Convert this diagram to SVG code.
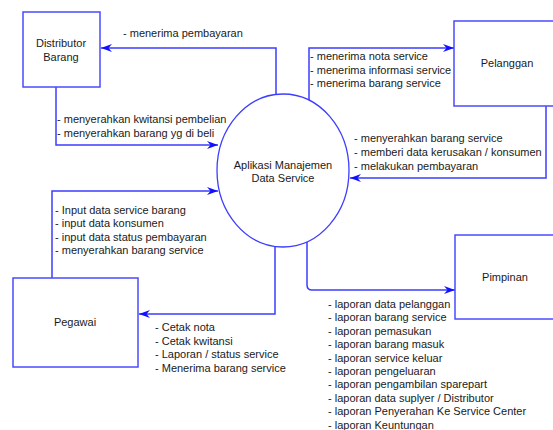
<svg xmlns="http://www.w3.org/2000/svg" width="553" height="430" viewBox="0 0 553 430">
<style>
.box{fill:#fff;stroke:#4a4aff;stroke-width:1.5}
.proc{fill:#fff;stroke:#3d3dff;stroke-width:1.3}
.t{font-family:"Liberation Sans",Arial,sans-serif;font-size:11px;fill:#1a1a1a}
.c{text-anchor:middle}
.ln{fill:none;stroke:#3d3dff;stroke-width:1.5;marker-end:url(#ah)}
</style>
<defs>
<marker id="ah" markerWidth="12" markerHeight="9" refX="11" refY="4.5" orient="auto" markerUnits="userSpaceOnUse">
<path d="M0,0.5 L11,4.5 L0,8.5 L3.5,4.5 z" fill="#1010ff"/>
</marker>
</defs>
<rect width="553" height="430" fill="#fff"/>
<g id="connectors">
<path class="ln" d="M276,95 V48 H101"/>
<path class="ln" d="M56,87 V145 H218"/>
<path class="ln" d="M309,101 V48 H454"/>
<path class="ln" d="M546,106 V178 H350"/>
<path class="ln" d="M52,278 V191 H218"/>
<path class="ln" d="M275,246 V314 H139"/>
<path class="ln" d="M307,242 V285 Q307,290 312,290 H455"/>
</g>
<g id="distributor">
<rect class="box" x="23" y="12" width="77" height="75"/>
<text class="t c" x="61" y="47">Distributor</text>
<text class="t c" x="61" y="61">Barang</text>
</g>
<g id="aplikasi">
<ellipse class="proc" cx="283" cy="170.5" rx="66" ry="76.5"/>
<text class="t c" x="283" y="169">Aplikasi Manajemen</text>
<text class="t c" x="283" y="182">Data Service</text>
</g>
<g id="pelanggan">
<rect class="box" x="454" y="21" width="110" height="85"/>
<text class="t c" x="507" y="67">Pelanggan</text>
</g>
<g id="pegawai">
<rect class="box" x="13" y="278" width="125" height="89"/>
<text class="t c" x="75" y="326">Pegawai</text>
</g>
<g id="pimpinan">
<rect class="box" x="455" y="235" width="110" height="84"/>
<text class="t c" x="505" y="281">Pimpinan</text>
</g>
<g id="labels">
<text class="t" x="123" y="37">- menerima pembayaran</text>
<text class="t" x="57" y="123">- menyerahkan kwitansi pembelian</text>
<text class="t" x="57" y="137">- menyerahkan barang yg di beli</text>
<text class="t" x="310" y="60">- menerima nota service</text>
<text class="t" x="310" y="74">- menerima informasi service</text>
<text class="t" x="310" y="87">- menerima barang service</text>
<text class="t" x="354" y="142">- menyerahkan barang service</text>
<text class="t" x="354" y="156">- memberi data kerusakan / konsumen</text>
<text class="t" x="354" y="170">- melakukan pembayaran</text>
<text class="t" x="55" y="214">- Input data service barang</text>
<text class="t" x="55" y="227">- input data konsumen</text>
<text class="t" x="55" y="241">- input data status pembayaran</text>
<text class="t" x="55" y="254">- menyerahkan barang service</text>
<text class="t" x="155" y="331">- Cetak nota</text>
<text class="t" x="155" y="345">- Cetak kwitansi</text>
<text class="t" x="155" y="358">- Laporan / status service</text>
<text class="t" x="155" y="372">- Menerima barang service</text>
<text class="t" x="328" y="308">- laporan data pelanggan</text>
<text class="t" x="328" y="321.4">- laporan barang service</text>
<text class="t" x="328" y="334.8">- laporan pemasukan</text>
<text class="t" x="328" y="348.2">- laporan barang masuk</text>
<text class="t" x="328" y="361.6">- laporan service keluar</text>
<text class="t" x="328" y="375">- laporan pengeluaran</text>
<text class="t" x="328" y="388.4">- laporan pengambilan sparepart</text>
<text class="t" x="328" y="401.8">- laporan data suplyer / Distributor</text>
<text class="t" x="328" y="415.2">- laporan Penyerahan Ke Service Center</text>
<text class="t" x="328" y="428.6">- laporan Keuntungan</text>
</g>
</svg>
